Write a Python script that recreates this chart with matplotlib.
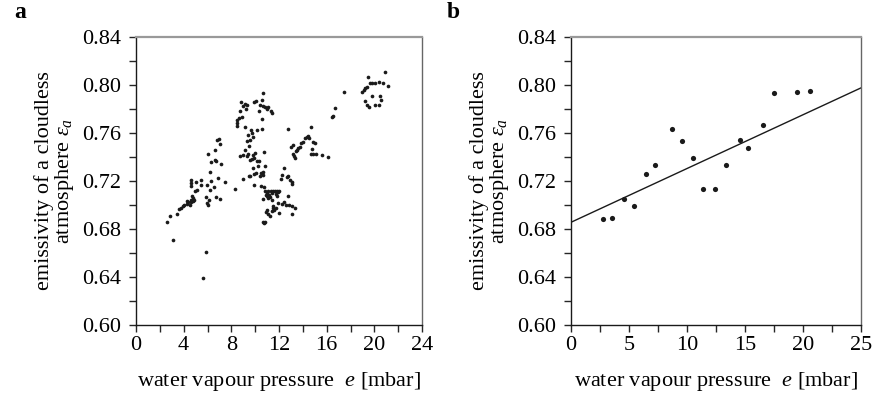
import numpy as np
import matplotlib
matplotlib.use("Agg")
import matplotlib.pyplot as plt
from matplotlib.ticker import MultipleLocator

plt.rcParams['font.family'] = ['Liberation Serif', 'DejaVu Serif']
plt.rcParams['mathtext.fontset'] = 'custom'
plt.rcParams['mathtext.rm'] = 'Liberation Serif'
plt.rcParams['mathtext.it'] = 'Liberation Serif:italic'
plt.rcParams['mathtext.bf'] = 'Liberation Serif:bold'

# ---- Panel a data: water vapour pressure e [mbar] vs emissivity ----
a_e = [2.63, 2.85, 3.13, 3.47, 3.64, 3.75, 3.97, 4.03, 4.25, 4.31, 4.39, 4.53, 4.59, 4.64,
       4.70, 4.76, 4.81, 4.90, 4.98, 5.09, 4.62, 4.62, 4.62, 5.01, 5.45, 5.43, 5.87, 5.93,
       5.96, 6.04, 6.15, 6.21, 6.29, 6.24, 6.07, 6.32, 6.55, 6.63, 6.71, 6.66, 6.77, 6.94,
       7.05, 7.16, 6.85, 6.71, 7.05, 7.47, 5.85, 5.62,
       8.34, 8.45, 8.45, 8.50, 8.67, 8.73, 8.78, 8.92, 9.01, 9.15, 9.23, 9.34, 9.15, 9.40,
       9.34, 9.57, 9.68, 9.85, 9.90, 10.07, 10.29, 10.43, 10.63, 10.57, 10.60, 10.69, 10.80,
       10.97, 11.05, 11.36, 11.41, 10.13, 10.55, 9.71, 9.51, 8.73, 9.01, 9.15, 9.29, 9.43,
       9.57, 9.71, 9.85, 9.90, 9.99, 10.13, 10.35, 10.27, 10.41, 10.07, 9.90, 9.57, 9.45,
       9.85, 10.74, 10.83, 10.69, 8.95, 9.93, 10.46, 10.63,
       10.52, 10.77, 10.69, 10.83, 10.91, 10.97, 11.02, 11.10, 11.19, 11.24, 11.10, 11.30,
       11.38, 11.52, 11.66, 11.80, 11.94, 12.03, 11.75, 11.86, 11.41, 11.52, 11.47, 11.61,
       11.72, 10.97, 10.91, 11.10, 11.24, 11.38, 11.94, 12.00, 12.25, 12.42, 12.59, 12.76,
       12.87, 13.06, 13.06, 13.34, 10.69, 10.83, 10.74, 12.64, 12.42, 12.22, 12.14, 12.92,
       13.06, 13.12, 12.73,
       12.78, 13.01, 13.20, 13.15, 13.26, 13.34, 13.40, 13.48, 13.62, 13.76, 13.82, 14.04,
       14.18, 14.32, 14.46, 14.55, 14.66, 14.83, 15.02, 14.74, 14.66, 14.83, 15.10, 15.58,
       16.14,
       16.42, 16.50, 16.67, 17.45, 18.99, 19.13, 19.22, 19.36, 19.47, 19.64, 19.80, 20.03,
       20.36, 20.76, 20.90, 21.15, 19.78, 19.24, 19.41, 19.58, 20.08, 20.36, 20.53, 20.48]

a_eps = [0.6856, 0.6906, 0.6708, 0.6922, 0.6969, 0.6975, 0.6989, 0.6997, 0.7011, 0.7036,
         0.7025, 0.7000, 0.7022, 0.7039, 0.7072, 0.7058, 0.7031, 0.7044, 0.7114, 0.7128,
         0.7206, 0.7183, 0.7161, 0.7189, 0.7206, 0.7167, 0.7067, 0.7167, 0.7014, 0.7003,
         0.7039, 0.7128, 0.7197, 0.7272, 0.7428, 0.7356, 0.7150, 0.7378, 0.7369, 0.7456,
         0.7539, 0.7550, 0.7508, 0.7339, 0.7228, 0.7067, 0.7050, 0.7194, 0.6611, 0.6389,
         0.7133, 0.7683, 0.7711, 0.7661, 0.7722, 0.7781, 0.7856, 0.7733, 0.7828, 0.7844,
         0.7803, 0.7836, 0.7650, 0.7586, 0.7531, 0.7544, 0.7628, 0.7567, 0.7856, 0.7864,
         0.7781, 0.7836, 0.7933, 0.7872, 0.7719, 0.7822, 0.7817, 0.7803, 0.7817, 0.7786,
         0.7767, 0.7628, 0.7636, 0.7600, 0.7489, 0.7406, 0.7419, 0.7456, 0.7411, 0.7428,
         0.7378, 0.7383, 0.7419, 0.7394, 0.7433, 0.7364, 0.7367, 0.7322, 0.7239, 0.7267,
         0.7261, 0.7239, 0.7244, 0.7308, 0.7439, 0.7322, 0.7272, 0.7217, 0.7167, 0.7267,
         0.7247,
         0.7161, 0.7150, 0.7050, 0.7114, 0.7086, 0.7072, 0.7100, 0.7114, 0.7086, 0.7067,
         0.7058, 0.7114, 0.7100, 0.7117, 0.7114, 0.7114, 0.7108, 0.7114, 0.7094, 0.7072,
         0.7044, 0.6994, 0.6975, 0.6961, 0.6975, 0.6961, 0.6939, 0.6928, 0.6911, 0.6953,
         0.7017, 0.6933, 0.7008, 0.7022, 0.7003, 0.7072, 0.7003, 0.6989, 0.6925, 0.6975,
         0.6861, 0.6856, 0.6850, 0.7233, 0.7308, 0.7253, 0.7217, 0.7211, 0.7178, 0.7189,
         0.7239,
         0.7633, 0.7483, 0.7497, 0.7428, 0.7411, 0.7392, 0.7447, 0.7461, 0.7475, 0.7483,
         0.7517, 0.7522, 0.7558, 0.7567, 0.7572, 0.7558, 0.7650, 0.7528, 0.7517, 0.7467,
         0.7428, 0.7428, 0.7425, 0.7419, 0.7397,
         0.7733, 0.7744, 0.7808, 0.7939, 0.7939, 0.7956, 0.7975, 0.7983, 0.8067, 0.8017,
         0.8017, 0.8017, 0.8025, 0.8017, 0.8106, 0.7989, 0.7911, 0.7869, 0.7836, 0.7814,
         0.7836, 0.7833, 0.7872, 0.7906]

# ---- Panel b data: binned means and regression line ----
b_e = [2.80, 3.55, 4.60, 5.40, 6.47, 7.23, 8.67, 9.54, 10.49, 11.42, 12.43, 13.35,
       14.54, 15.23, 16.53, 17.51, 19.51, 20.61]
b_eps = [0.688, 0.689, 0.705, 0.699, 0.726, 0.733, 0.763, 0.753, 0.739, 0.713, 0.713,
         0.733, 0.754, 0.7475, 0.767, 0.7936, 0.7944, 0.7947]
fit_intercept = 0.6856
fit_slope = 0.00448

y_ticks = [0.60, 0.64, 0.68, 0.72, 0.76, 0.80, 0.84]
a_xticks = [0, 4, 8, 12, 16, 20, 24]
b_xticks = [0, 5, 10, 15, 20, 25]

ylabel = 'emissivity of a cloudless\natmosphere $\\varepsilon_a$'
xlabel = 'water vapour pressure  $e$ [mbar]'

fig = plt.figure(figsize=(8.72, 4.01), dpi=100)
axa = fig.add_axes([136/872, 1-325/401, 286/872, 288/401])
axb = fig.add_axes([571/872, 1-325/401, 290/872, 288/401])

FS = 16

def style(ax, xmax, xminor, xticks):
    ax.set_ylim(0.60, 0.84)
    ax.set_xlim(0, xmax)
    ax.set_yticks(y_ticks)
    ax.set_yticklabels([f'{v:.2f}' for v in y_ticks])
    ax.yaxis.set_minor_locator(MultipleLocator(0.02))
    ax.set_xticks(xticks)
    ax.set_xticklabels([str(v) for v in xticks])
    ax.xaxis.set_minor_locator(MultipleLocator(xminor))
    ax.tick_params(which='both', direction='out', length=5, width=1, color='0.15',
                   labelsize=FS)
    ax.tick_params(axis='y', which='both', pad=6)
    ax.tick_params(axis='x', which='both', pad=3)
    for s in ['left', 'bottom']:
        ax.spines[s].set_color('0.1')
        ax.spines[s].set_linewidth(1.0)
    ax.spines['top'].set_color('0.6')
    ax.spines['top'].set_linewidth(1.6)
    ax.spines['right'].set_color('0.4')
    ax.spines['right'].set_linewidth(1.0)
    ax.set_ylabel(ylabel, fontsize=FS, linespacing=0.95, labelpad=4)
    ax.set_xlabel(xlabel, fontsize=FS, labelpad=11)

style(axa, 24, 2, a_xticks)
style(axb, 25, 2.5, b_xticks)

axa.scatter(a_e, a_eps, s=7, color='#1a1a1a', linewidths=0, zorder=3)
axb.scatter(b_e, b_eps, s=14, color='#1a1a1a', linewidths=0, zorder=3)
xl = np.array(axb.get_xlim())
axb.plot(xl, fit_intercept + fit_slope * xl, color='#1a1a1a', lw=1.0)

fig.text(14/872, 1-12/401, 'a', fontsize=17, fontweight='bold', ha='left', va='center')
fig.text(447/872, 1-12/401, 'b', fontsize=17, fontweight='bold', ha='left', va='center')

fig.savefig('out.png', dpi=100)
